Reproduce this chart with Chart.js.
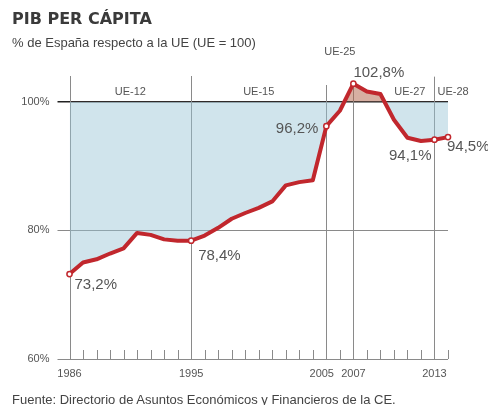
<!DOCTYPE html>
<html>
<head>
<meta charset="utf-8">
<script src="https://cdn.jsdelivr.net/npm/chart.js@4/dist/chart.umd.min.js"></script>
<style>
    body { margin: 0; background: #fff; }
    .wrap { position: relative; width: 488px; height: 405px; }
    canvas { position: absolute; left: 0; top: 0; }
    .title { position: absolute; left: 12px; top: 9px; font: bold 16px "DejaVu Sans", sans-serif; color: #3a3a3a; }
    .sub { position: absolute; left: 12px; top: 35px; font: 13px "Liberation Sans", Arial, sans-serif; color: #444; }
    .foot { position: absolute; left: 12px; top: 392px; font: 13px "Liberation Sans", Arial, sans-serif; color: #444; }
</style>
</head>
<body>
<div class="wrap">
    <canvas id="pibChart" width="488" height="405"></canvas>
    <div class="title">PIB PER CÁPITA</div>
    <div class="sub">% de España respecto a la UE (UE = 100)</div>
    <div class="foot">Fuente: Directorio de Asuntos Económicos y Financieros de la CE.</div>
</div>
<script>
        const years = [1986, 1987, 1988, 1989, 1990, 1991, 1992, 1993, 1994, 1995,
            1996, 1997, 1998, 1999, 2000, 2001, 2002, 2003, 2004, 2005,
            2006, 2007, 2008, 2009, 2010, 2011, 2012, 2013, 2014];
        const pibValues = [73.2, 75.0, 75.5, 76.4, 77.2, 79.6, 79.3, 78.6, 78.4, 78.4,
            79.2, 80.4, 81.8, 82.7, 83.5, 84.5, 87.0, 87.5, 87.8, 96.2,
            98.6, 102.8, 101.6, 101.2, 97.2, 94.4, 93.9, 94.1, 94.5];
        const labelYears = [1986, 1995, 2005, 2007, 2013];
        const markedYears = [1986, 1995, 2005, 2007, 2013, 2014];
        const yTicks = [60, 80, 100];
        const eraNames = ['UE-12', 'UE-15', 'UE-25', 'UE-27', 'UE-28'];

        const colors = {
            line: '#c1272d',
            below: 'rgba(150,195,212,0.45)',
            above: 'rgba(175,95,70,0.5)',
            grid: '#8a8a8a',
            text: '#555'
        };
        const smallFont = '"Liberation Sans", Arial, sans-serif';

        const fmt = v => v.toFixed(1).replace('.', ',') + '%';

        const decorPlugin = {
            id: 'decor',
            beforeDatasetsDraw(chart) {
                const { ctx, chartArea, scales: { x, y } } = chart;
                ctx.save();
                // vertical era lines
                const tops = { 1986: 104, 1995: 104, 2005: 102.6, 2007: 102.8, 2013: 103.9 };
                ctx.strokeStyle = colors.grid;
                ctx.lineWidth = 1;
                labelYears.forEach(yr => {
                    const px = Math.round(x.getPixelForValue(yr)) + 0.5;
                    ctx.beginPath();
                    ctx.moveTo(px, y.getPixelForValue(tops[yr]));
                    ctx.lineTo(px, chartArea.bottom);
                    ctx.stroke();
                });
                // minor year ticks
                years.forEach(yr => {
                    const px = Math.round(x.getPixelForValue(yr)) + 0.5;
                    ctx.beginPath();
                    ctx.moveTo(px, chartArea.bottom - 9);
                    ctx.lineTo(px, chartArea.bottom);
                    ctx.stroke();
                });
                ctx.restore();
            },
            afterDatasetsDraw(chart) {
                const { ctx, scales: { x, y } } = chart;
                ctx.save();
                ctx.fillStyle = colors.text;
                // era labels
                ctx.font = '11px ' + smallFont;
                ctx.textBaseline = 'middle';
                const eraY = y.getPixelForValue(101.55);
                ctx.textAlign = 'center';
                ctx.fillText(eraNames[0], (x.getPixelForValue(1986) + x.getPixelForValue(1995)) / 2, eraY);
                ctx.fillText(eraNames[1], (x.getPixelForValue(1995) + x.getPixelForValue(2005)) / 2, eraY);
                ctx.fillText(eraNames[2], (x.getPixelForValue(2005) + x.getPixelForValue(2007)) / 2, y.getPixelForValue(107.8));
                ctx.textAlign = 'right';
                ctx.fillText(eraNames[3], x.getPixelForValue(2013) - 9, eraY);
                ctx.textAlign = 'left';
                ctx.fillText(eraNames[4], x.getPixelForValue(2013) + 3, eraY);

                // value labels
                ctx.font = '15px ' + smallFont;
                const pt = yr => {
                    const i = years.indexOf(yr);
                    return { px: x.getPixelForValue(yr), py: y.getPixelForValue(pibValues[i]), v: pibValues[i] };
                };
                let p = pt(1986);
                ctx.textAlign = 'left';
                ctx.fillText(fmt(p.v), p.px + 5, p.py + 11);
                p = pt(1995);
                ctx.fillText(fmt(p.v), p.px + 7, p.py + 15);
                p = pt(2005);
                ctx.textAlign = 'right';
                ctx.fillText(fmt(p.v), p.px - 8, p.py + 3);
                p = pt(2007);
                ctx.textAlign = 'left';
                ctx.fillText(fmt(p.v), p.px, p.py - 11);
                p = pt(2013);
                ctx.textAlign = 'right';
                ctx.fillText(fmt(p.v), p.px - 3, p.py + 16);
                p = pt(2014);
                ctx.textAlign = 'left';
                ctx.fillText(fmt(p.v), p.px - 1, p.py + 10);
                ctx.restore();
            }
        };

        const ctx = document.getElementById('pibChart').getContext('2d');
        new Chart(ctx, {
            type: 'line',
            data: {
                datasets: [{
                    data: years.map((yr, i) => ({ x: yr, y: pibValues[i] })),
                    borderColor: colors.line,
                    borderWidth: 4,
                    borderJoinStyle: 'round',
                    tension: 0,
                    fill: { target: { value: 100 }, above: colors.above, below: colors.below },
                    pointRadius: c => markedYears.includes(years[c.dataIndex]) ? 2.6 : 0,
                    pointBackgroundColor: '#fff',
                    pointBorderColor: colors.line,
                    pointBorderWidth: 1.5,
                    clip: false
                }]
            },
            options: {
                responsive: false,
                animation: false,
                events: [],
                layout: { padding: { left: 0, right: 40, top: 76, bottom: 0 } },
                plugins: { legend: { display: false }, tooltip: { enabled: false } },
                scales: {
                    x: {
                        type: 'linear',
                        min: 1986,
                        max: 2014,
                        afterBuildTicks: s => { s.ticks = labelYears.map(v => ({ value: v })); },
                        afterFit: s => { s.height = 46; },
                        grid: { display: false, drawTicks: false },
                        border: { display: false },
                        ticks: {
                            // nudge 2005 left so it does not touch 2007
                            callback: v => v === 2005 ? v + '   ' : String(v),
                            color: colors.text,
                            padding: 8,
                            maxRotation: 0,
                            autoSkip: false,
                            font: { family: smallFont, size: 11 }
                        }
                    },
                    y: {
                        min: 60,
                        max: 104,
                        afterBuildTicks: s => { s.ticks = yTicks.map(v => ({ value: v })); },
                        afterFit: s => { s.width = 69.5; },
                        border: { display: false },
                        grid: {
                            color: c => c.tick && c.tick.value === 100 ? '#222' : colors.grid,
                            lineWidth: c => c.tick && c.tick.value === 100 ? 1.5 : 1,
                            tickLength: 12,
                            drawTicks: true
                        },
                        ticks: {
                            callback: v => v + '%',
                            color: colors.text,
                            padding: 8,
                            font: { family: smallFont, size: 11 }
                        }
                    }
                }
            },
            plugins: [decorPlugin]
        });
</script>
</body>
</html>
